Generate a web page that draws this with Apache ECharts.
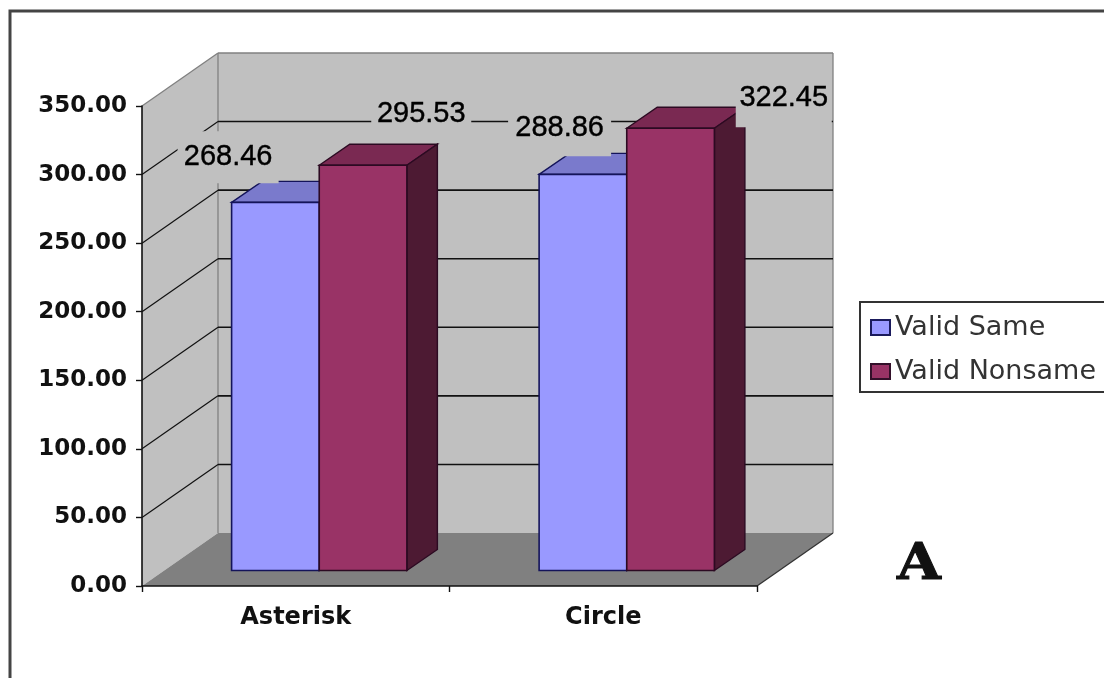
<!DOCTYPE html>
<html>
<head>
<meta charset="utf-8">
<style>html,body{margin:0;padding:0;background:#fff;overflow:hidden}#chart{width:1104px;height:678px}</style>
<script src="https://cdn.jsdelivr.net/npm/echarts@6/dist/echarts.min.js"></script>
</head>
<body>
<div id="chart"></div>
<script>
// Values plotted for each condition
const categories = ['Asterisk', 'Circle'];
const validSame = [268.46, 288.86];
const validNonsame = [295.53, 322.45];
const gridValues = [50, 100, 150, 200, 250, 300];

// Pseudo-3D projection of the plot box
const WALL_DX = 76, WALL_DY = -53;       // front plane to back wall
const BAR_DX = 23.5, BAR_DY = -15.5;     // front plane to bar front faces
const BAR_DEPTH_DX = 30.5, BAR_DEPTH_DY = -21; // bar front face to bar back face
const BAR_BAND_SHARE = 0.285;            // one bar's width as a share of the category band

const WALL = '#c0c0c0', FLOOR = '#808080', EDGE = '#808080';

function poly(points, fill, stroke, lineWidth) {
  return { type: 'polygon', shape: { points: points },
    style: { fill: fill, stroke: stroke || null, lineWidth: lineWidth || 0 } };
}
function line(p, q, stroke, lineWidth) {
  return { type: 'line', shape: { x1: p[0], y1: p[1], x2: q[0], y2: q[1] },
    style: { stroke: stroke, lineWidth: lineWidth || 1.3 } };
}
const shift = (p, dx, dy) => [p[0] + dx, p[1] + dy];

// Floor and the two walls
function renderBox(params, api) {
  const band = api.size([1, 0])[0];
  const left = api.coord([0, 0])[0] - band / 2;
  const right = left + band * categories.length;
  const y0 = api.coord([0, 0])[1];
  const yTop = api.coord([0, 350])[1];
  const a = [left, y0], b = [right, y0], c = [left, yTop], d = [right, yTop];
  const back = p => shift(p, WALL_DX, WALL_DY);
  return { type: 'group', children: [
    poly([c, back(c), back(a), a], WALL),
    poly([back(c), back(d), back(b), back(a)], WALL),
    poly([a, b, back(b), back(a)], FLOOR),
    line(c, back(c), EDGE), line(back(c), back(d), EDGE),
    line(back(c), back(a), EDGE), line(back(d), back(b), EDGE),
    line(b, back(b), '#333', 1.3)
  ] };
}

// One gridline: up the side wall, then across the back wall
function renderGrid(params, api) {
  const band = api.size([1, 0])[0];
  const left = api.coord([0, 0])[0] - band / 2;
  const right = left + band * categories.length;
  const y = api.coord([0, api.value(1)])[1];
  const corner = [left + WALL_DX, y + WALL_DY];
  return { type: 'group', children: [
    line([left, y], corner, '#111', 1.2),
    line(corner, [right + WALL_DX, y + WALL_DY], '#111', 1.6)
  ] };
}

// Bar as front, top and side faces. slot -1 sits left of the band centre, 0 right of it.
function barRenderer(slot, front, top, side, edge) {
  return function (params, api) {
    const band = api.size([1, 0])[0];
    const w = band * BAR_BAND_SHARE;
    const cx = api.coord([api.value(0), 0])[0] + BAR_DX + slot * w;
    const yBase = api.coord([0, 0])[1] + BAR_DY;
    const yTop = api.coord([0, api.value(1)])[1] + BAR_DY;
    const tl = [cx, yTop], tr = [cx + w, yTop], br = [cx + w, yBase], bl = [cx, yBase];
    const back = p => shift(p, BAR_DEPTH_DX, BAR_DEPTH_DY);
    return { type: 'group', children: [
      poly([tl, back(tl), back(tr), tr], top, edge, 1.4),
      poly([tr, back(tr), back(br), br], side, edge, 1.4),
      poly([tl, tr, br, bl], front, edge, 1.6)
    ] };
  };
}

// Where each value label's opaque box sits, relative to the top-left of its bar's front face
const labelBoxes = {
  same: [{ dx: -54, dy: -71, w: 101, h: 52 }, { dx: -31, dy: -75, w: 103, h: 57 }],
  nonsame: [{ dx: 52, dy: -78, w: 100, h: 54 }, { dx: 109, dy: -59, w: 96, h: 58 }]
};
function labelRenderer(slot, boxes) {
  return function (params, api) {
    const band = api.size([1, 0])[0];
    const w = band * BAR_BAND_SHARE;
    const i = api.value(0);
    const x = api.coord([i, 0])[0] + BAR_DX + slot * w;
    const y = api.coord([0, api.value(1)])[1] + BAR_DY;
    const box = boxes[i];
    return { type: 'group', children: [
      { type: 'rect', shape: { x: x + box.dx, y: y + box.dy, width: box.w, height: box.h },
        style: { fill: WALL } },
      { type: 'text', style: { text: api.value(1).toFixed(2),
          x: x + box.dx + box.w / 2, y: y + box.dy + box.h / 2,
          align: 'center', verticalAlign: 'middle',
          fontFamily: 'Liberation Sans', fontSize: 29, fill: '#000',
          stroke: '#000', lineWidth: 0.4 } }
    ] };
  };
}

const pairs = values => values.map((v, i) => [i, v]);
const chart = echarts.init(document.getElementById('chart'), null, { renderer: 'canvas' });
chart.setOption({
  animation: false,
  backgroundColor: '#fff',
  grid: { left: 142, top: 106, width: 615, height: 480, containLabel: false },
  xAxis: {
    type: 'category', data: categories,
    axisLine: { lineStyle: { color: '#111', width: 1.6 } },
    axisTick: { show: true, length: 6, lineStyle: { color: '#111', width: 1.4 } },
    axisLabel: { fontFamily: 'DejaVu Sans', fontWeight: 'bold', fontSize: 24, color: '#111', margin: 20 },
    z: 5
  },
  yAxis: {
    type: 'value', min: 0, max: 350, interval: 50,
    axisLine: { show: true, lineStyle: { color: '#111', width: 1.6 } },
    axisTick: { show: true, length: 6, lineStyle: { color: '#111', width: 1.4 } },
    axisLabel: { fontFamily: 'DejaVu Sans', fontWeight: 'bold', fontSize: 23, color: '#111', margin: 15,
      formatter: v => v.toFixed(2) },
    splitLine: { show: false },
    z: 5
  },
  legend: {
    left: 860, top: 302, orient: 'vertical', icon: 'rect',
    data: ['Valid Same', 'Valid Nonsame'],
    backgroundColor: '#fff', borderColor: '#333', borderWidth: 2,
    padding: [12, 40, 7, 10], itemWidth: 19, itemHeight: 15, itemGap: 17,
    textStyle: { fontFamily: 'DejaVu Sans', fontSize: 27, color: '#333', padding: [0, 0, 10, 0] }
  },
  graphic: [
    { type: 'polyline', z: 1, shape: { points: [[10, 678], [10, 11], [1104, 11]] },
      style: { stroke: '#444', lineWidth: 3, fill: null } },
    { type: 'text', x: 897, y: 541, z: 1, scaleX: 1.13,
      style: { text: 'A', fontFamily: 'DejaVu Serif', fontWeight: 'bold', fontSize: 50, fill: '#111',
        stroke: '#111', lineWidth: 1 } }
  ],
  series: [
    { type: 'custom', name: 'box', coordinateSystem: 'cartesian2d', z: 1, silent: true,
      clip: false, data: [[0, 0]], renderItem: renderBox },
    { type: 'custom', name: 'gridlines', coordinateSystem: 'cartesian2d', z: 2, silent: true,
      clip: false, data: gridValues.map(v => [0, v]), renderItem: renderGrid },
    { type: 'custom', name: 'Valid Same', coordinateSystem: 'cartesian2d', z: 3, clip: false,
      itemStyle: { color: '#9999ff', borderColor: '#1a1a5c', borderWidth: 1.5 },
      data: pairs(validSame),
      renderItem: barRenderer(-1, '#9999ff', '#7a7acc', '#4d4d80', '#14145a') },
    { type: 'custom', name: 'Valid Nonsame', coordinateSystem: 'cartesian2d', z: 4, clip: false,
      itemStyle: { color: '#993366', borderColor: '#33102a', borderWidth: 1.5 },
      data: pairs(validNonsame),
      renderItem: barRenderer(0, '#993366', '#7a2952', '#4d1a33', '#2c0a22') },
    { type: 'custom', name: 'same labels', coordinateSystem: 'cartesian2d', z: 6, clip: false,
      data: pairs(validSame), renderItem: labelRenderer(-1, labelBoxes.same) },
    { type: 'custom', name: 'nonsame labels', coordinateSystem: 'cartesian2d', z: 6, clip: false,
      data: pairs(validNonsame), renderItem: labelRenderer(0, labelBoxes.nonsame) }
  ]
});
</script>
</body>
</html>
